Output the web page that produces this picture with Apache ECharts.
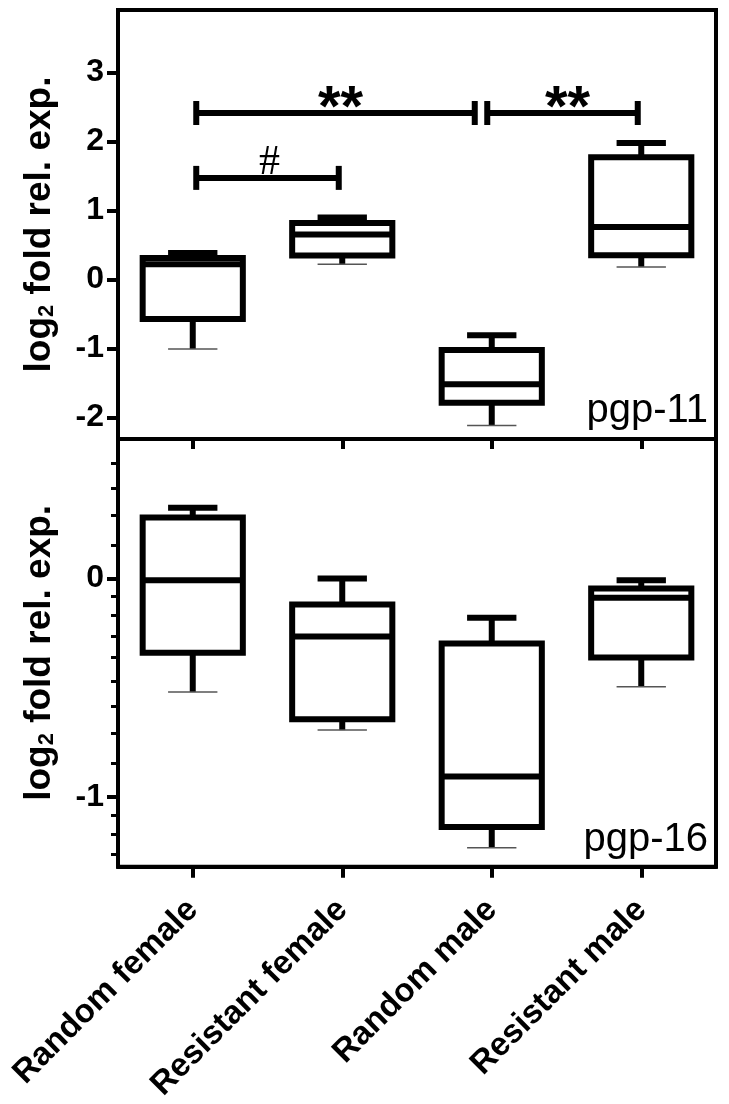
<!DOCTYPE html>
<html>
<head>
<meta charset="utf-8">
<script src="https://cdn.jsdelivr.net/npm/echarts@6/dist/echarts.min.js"></script>
<style>
html,body{margin:0;padding:0;background:#fff;}
#chart{width:729px;height:1104px;}
</style>
</head>
<body>
<div id="chart"></div>
<script>
// ---------- data ----------
const categories = ['Random female', 'Resistant female', 'Random male', 'Resistant male'];

// pgp-11 (log2 fold rel. exp.)
const pgp11Min    = [-1.01, 0.22, -2.12, 0.18];
const pgp11Q1     = [-0.575, 0.345, -1.79, 0.35];
const pgp11Median = [0.22, 0.65, -1.52, 0.76];
const pgp11Q3     = [0.31, 0.815, -1.025, 1.77];
const pgp11Max    = [0.38, 0.895, -0.81, 1.975];

// pgp-16 (log2 fold rel. exp.)
const pgp16Min    = [-0.52, -0.694, -1.233, -0.496];
const pgp16Q1     = [-0.34, -0.644, -1.138, -0.362];
const pgp16Median = [-0.008, -0.266, -0.907, -0.088];
const pgp16Q3     = [0.28, -0.119, -0.297, -0.046];
const pgp16Max    = [0.324, 0.0, -0.18, -0.008];

// significance bars (pgp-11)
const sigFrom  = [0, 2, 0];
const sigTo    = [2, 3, 1];
const sigY     = [2.41, 2.41, 1.47];
const sigLabel = ['**', '**', '#'];

// axis ticks
const pgp11Ticks = [-2, -1, 0, 1, 2, 3];
const pgp16Ticks = [-1, 0];
// minor ticks of the log2 pgp-16 axis, as fold values
const pgp16MinorFold = [1.111, 1.222, 1.333, 1.444,
  0.944, 0.889, 0.833, 0.778, 0.722, 0.667, 0.611, 0.556,
  0.472, 0.444, 0.417];

const panelNames = ['pgp-11', 'pgp-16'];

// ---------- build ----------
const FONT = "'Liberation Sans', Arial, Helvetica, sans-serif";
const rowsOf = (mn, q1, md, q3, mx) => categories.map((c, i) => [i, mn[i], q1[i], md[i], q3[i], mx[i]]);
const pgp11Rows = rowsOf(pgp11Min, pgp11Q1, pgp11Median, pgp11Q3, pgp11Max);
const pgp16Rows = rowsOf(pgp16Min, pgp16Q1, pgp16Median, pgp16Q3, pgp16Max);
const sigRows = sigFrom.map((f, i) => [f, sigTo[i], sigY[i]]);

function boxItem(params, api) {
  const x = api.value(0);
  const vMin = api.value(1), q1 = api.value(2), med = api.value(3), q3 = api.value(4), vMax = api.value(5);
  const cx = api.coord([x, med])[0];
  const y = v => api.coord([x, v])[1];
  const cat = api.size([1, 0])[0];
  const bw = cat * 0.67, cw = cat * 0.33;
  const blk = {stroke: '#000', lineWidth: 6};
  return {type: 'group', children: [
    {type: 'line', shape: {x1: cx, y1: y(q3), x2: cx, y2: y(vMax)}, style: blk},
    {type: 'line', shape: {x1: cx, y1: y(q1), x2: cx, y2: y(vMin)}, style: blk},
    {type: 'line', shape: {x1: cx - cw / 2, y1: y(vMax), x2: cx + cw / 2, y2: y(vMax)}, style: blk},
    {type: 'line', shape: {x1: cx - cw / 2, y1: y(vMin), x2: cx + cw / 2, y2: y(vMin)}, style: {stroke: '#555', lineWidth: 1.5}},
    {type: 'rect', shape: {x: cx - bw / 2, y: y(q3), width: bw, height: y(q1) - y(q3)}, style: {fill: '#fff', stroke: '#000', lineWidth: 6}},
    {type: 'line', shape: {x1: cx - bw / 2, y1: y(med), x2: cx + bw / 2, y2: y(med)}, style: blk}
  ]};
}

function sigItem(params, api) {
  const i = params.dataIndex;
  const from = api.value(0), to = api.value(1), v = api.value(2);
  const p1 = api.coord([from, v]), p2 = api.coord([to, v]);
  let x1 = p1[0] + 3.5, x2 = p2[0] - 3.5;
  const yy = p1[1];
  for (let j = 0; j < sigFrom.length; j++) {
    if (j === i || sigY[j] !== sigY[i]) continue;
    if (sigFrom[j] === to) x2 = p2[0] - 17;
    if (sigTo[j] === from) x1 = p1[0] - 4.5;
  }
  const blk = {stroke: '#000', lineWidth: 6};
  const isStar = sigLabel[i] !== '#';
  return {type: 'group', children: [
    {type: 'line', shape: {x1: x1, y1: yy, x2: x2, y2: yy}, style: blk},
    {type: 'line', shape: {x1: x1, y1: yy - 12, x2: x1, y2: yy + 12}, style: blk},
    {type: 'line', shape: {x1: x2, y1: yy - 12, x2: x2, y2: yy + 12}, style: blk},
    {type: 'text', x: (x1 + x2) / 2 + (isStar ? 5 : 2), y: yy - (isStar ? 3 : 15),
      style: {text: sigLabel[i], fill: '#000', align: 'center', verticalAlign: 'middle',
        font: isStar ? ("bold 58px " + FONT) : ("normal 42px 'Liberation Serif', 'Times New Roman', serif")}}
  ]};
}

const axisName = {
  name: '{a|log}{s|2}{a| fold rel. exp.}',
  nameLocation: 'middle',
  nameRotate: 90,
  nameGap: 60,
  nameTextStyle: {
    color: '#000',
    rich: {
      a: {fontSize: 37, fontWeight: 'bold', fontFamily: FONT, color: '#000'},
      s: {fontSize: 22, fontWeight: 'bold', fontFamily: FONT, color: '#000', verticalAlign: 'bottom'}
    }
  }
};

const lineBlk = {show: true, onZero: false, lineStyle: {color: '#000', width: 4}};
const labelStyle = {color: '#000', fontSize: 32, fontWeight: 'bold', fontFamily: FONT, margin: 14};

const option = {
  backgroundColor: '#fff',
  animation: false,
  grid: [
    {left: 118, right: 13, top: 10, height: 429, show: true, borderColor: '#000', borderWidth: 4, backgroundColor: '#fff'},
    {left: 118, right: 13, top: 439, height: 429, show: true, borderColor: '#000', borderWidth: 4, backgroundColor: '#fff'}
  ],
  xAxis: [
    {type: 'category', gridIndex: 0, data: categories, boundaryGap: true, position: 'bottom',
      axisLine: lineBlk, axisTick: {show: true, alignWithLabel: true, length: 10, lineStyle: {color: '#000', width: 4}},
      axisLabel: {show: false}, splitLine: {show: false}},
    {type: 'category', gridIndex: 1, data: categories, boundaryGap: true, position: 'bottom',
      axisLine: lineBlk, axisTick: {show: true, alignWithLabel: true, length: 11, lineStyle: {color: '#000', width: 4}},
      axisLabel: {show: true, rotate: 45, interval: 0, color: '#000', fontSize: 33, fontWeight: 'bold', fontFamily: FONT, margin: 38},
      splitLine: {show: false}}
  ],
  yAxis: [
    Object.assign({type: 'value', gridIndex: 0, min: -2.314, max: 3.903, position: 'left',
      axisLine: lineBlk,
      axisTick: {show: true, length: 11, customValues: pgp11Ticks, lineStyle: {color: '#000', width: 4}},
      axisLabel: Object.assign({customValues: pgp11Ticks}, labelStyle),
      splitLine: {show: false}}, axisName),
    Object.assign({type: 'value', gridIndex: 1, min: -1.32, max: 0.639, position: 'left',
      axisLine: lineBlk,
      axisTick: {show: true, length: 11, customValues: pgp16Ticks, lineStyle: {color: '#000', width: 4}},
      axisLabel: Object.assign({customValues: pgp16Ticks}, labelStyle),
      splitLine: {show: false}}, axisName),
    {type: 'value', gridIndex: 1, min: -1.32, max: 0.639, position: 'left',
      axisLine: {show: false, onZero: false},
      axisTick: {show: true, length: 7, customValues: pgp16MinorFold.map(f => Math.log2(f)), lineStyle: {color: '#000', width: 3}},
      axisLabel: {show: false}, splitLine: {show: false}}
  ],
  series: [
    {type: 'custom', xAxisIndex: 0, yAxisIndex: 0, data: pgp11Rows, encode: {x: 0, y: [1, 2, 3, 4, 5]}, renderItem: boxItem, clip: false, z: 5},
    {type: 'custom', xAxisIndex: 0, yAxisIndex: 0, data: sigRows, encode: {x: [0, 1], y: 2}, renderItem: sigItem, clip: false, z: 6},
    {type: 'custom', xAxisIndex: 1, yAxisIndex: 1, data: pgp16Rows, encode: {x: 0, y: [1, 2, 3, 4, 5]}, renderItem: boxItem, clip: false, z: 5}
  ],
  graphic: [
    {type: 'text', x: 708, y: 411, z: 10, style: {text: panelNames[0], fill: '#000', font: "normal 40px " + FONT, textAlign: 'right', textVerticalAlign: 'middle', align: 'right', verticalAlign: 'middle'}},
    {type: 'text', x: 708, y: 840, z: 10, style: {text: panelNames[1], fill: '#000', font: "normal 40px " + FONT, textAlign: 'right', textVerticalAlign: 'middle', align: 'right', verticalAlign: 'middle'}}
  ]
};

const chart = echarts.init(document.getElementById('chart'), null, {renderer: 'canvas'});
chart.setOption(option);
</script>
</body>
</html>
